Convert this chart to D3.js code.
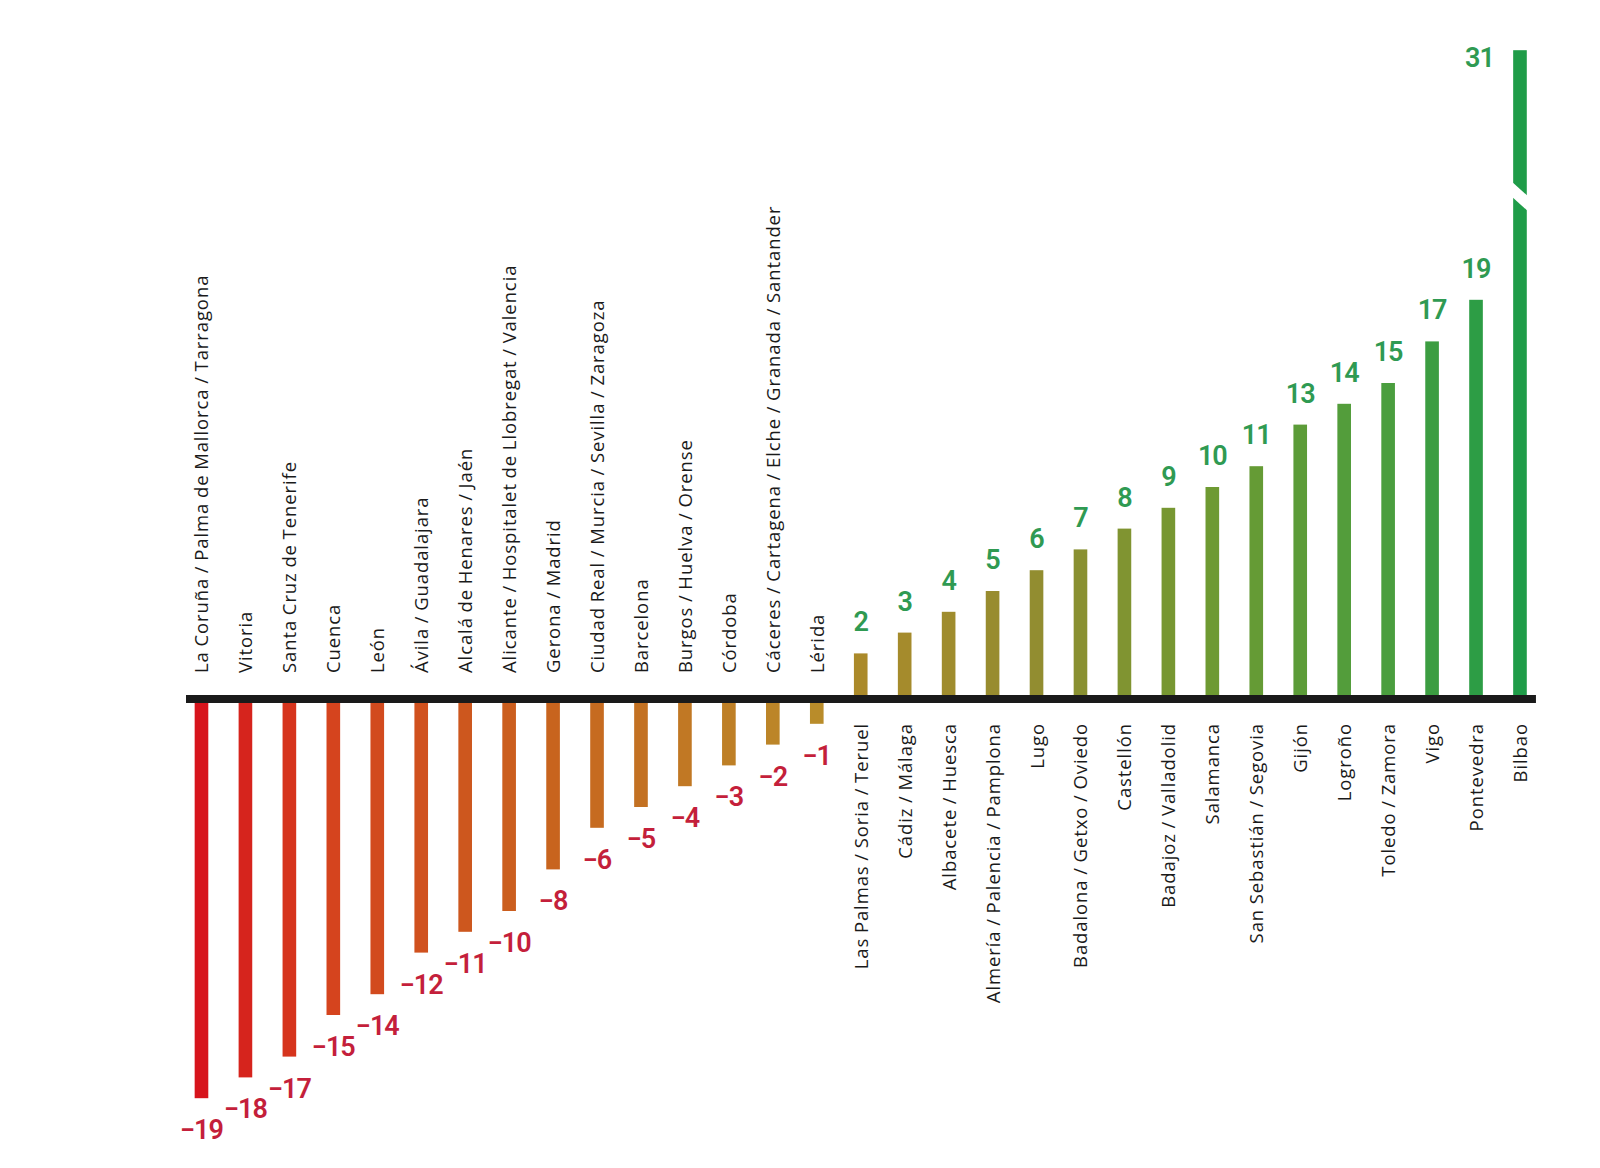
<!DOCTYPE html>
<html>
<head>
<meta charset="utf-8">
<script src="https://cdn.jsdelivr.net/npm/d3@7"></script>
<style>
  html, body { margin: 0; padding: 0; background: #ffffff; }
  svg { display: block; }
</style>
</head>
<body>
<svg id="chart" width="1600" height="1168"></svg>
<script>
// ---- DATA ----
const categories = [
  "La Coruña / Palma de Mallorca / Tarragona",
  "Vitoria",
  "Santa Cruz de Tenerife",
  "Cuenca",
  "León",
  "Ávila / Guadalajara",
  "Alcalá de Henares / Jaén",
  "Alicante / Hospitalet de Llobregat / Valencia",
  "Gerona / Madrid",
  "Ciudad Real / Murcia / Sevilla / Zaragoza",
  "Barcelona",
  "Burgos / Huelva / Orense",
  "Córdoba",
  "Cáceres / Cartagena / Elche / Granada / Santander",
  "Lérida",
  "Las Palmas / Soria / Teruel",
  "Cádiz / Málaga",
  "Albacete / Huesca",
  "Almería / Palencia / Pamplona",
  "Lugo",
  "Badalona / Getxo / Oviedo",
  "Castellón",
  "Badajoz / Valladolid",
  "Salamanca",
  "San Sebastián / Segovia",
  "Gijón",
  "Logroño",
  "Toledo / Zamora",
  "Vigo",
  "Pontevedra",
  "Bilbao"
];
const values = [-19, -18, -17, -15, -14, -12, -11, -10, -8, -6, -5, -4, -3, -2, -1,
                2, 3, 4, 5, 6, 7, 8, 9, 10, 11, 13, 14, 15, 17, 19, 31];
const brokenCategories = ["Bilbao"]; // bar drawn with a scale break

// ---- LAYOUT ----
const svg = d3.select("#chart");
svg.append("rect").attr("width", 1600).attr("height", 1168).attr("fill", "#ffffff");

const n = categories.length;
const step = 43.95;
const x = d3.scaleBand()
  .domain(categories)
  .range([179.5, 179.5 + n * step])
  .paddingInner(0.69)
  .paddingOuter(0.345)
  .align(0.5);

const axisTop = 695, axisBottom = 703, unit = 20.8;
const yPos = d3.scaleLinear().domain([0, 31]).range([axisTop, axisTop - 31 * unit]);
const yNeg = d3.scaleLinear().domain([0, -19]).range([axisBottom, axisBottom + 19 * unit]);

const color = d3.scaleLinear()
  .domain([0, 3, 8, 14, 15, 19, 23, 27, 30])
  .range(["#d7141c", "#d5441e", "#c8641e", "#b98c2a", "#ab8a2a", "#928d30", "#6e9a32", "#4a9e3e", "#1f9c48"])
  .interpolate(d3.interpolateRgb);

const data = categories.map((c, i) => ({ cat: c, v: values[i], i }));

// bars
svg.append("g").selectAll("rect")
  .data(data)
  .join("rect")
  .attr("x", d => x(d.cat))
  .attr("width", x.bandwidth())
  .attr("y", d => d.v >= 0 ? yPos(d.v) : axisBottom)
  .attr("height", d => d.v >= 0 ? axisTop - yPos(d.v) : yNeg(d.v) - axisBottom)
  .attr("fill", d => color(d.i));

// scale break on broken bars
data.filter(d => brokenCategories.includes(d.cat)).forEach(d => {
  const x0 = x(d.cat) - 1, x1 = x(d.cat) + x.bandwidth() + 1;
  svg.append("polygon")
    .attr("points", `${x0},182 ${x1},196 ${x1},211 ${x0},197`)
    .attr("fill", "#ffffff");
});

// axis band
svg.append("rect")
  .attr("x", x.range()[0] + 6.5)
  .attr("width", (x.range()[1] - 6) - (x.range()[0] + 6.5))
  .attr("y", axisTop)
  .attr("height", axisBottom - axisTop)
  .attr("fill", "#1a1a1a");

// category labels
const cx = d => x(d.cat) + x.bandwidth() / 2;
svg.append("g").selectAll("text")
  .data(data)
  .join("text")
  .attr("transform", d => d.v < 0
    ? `translate(${cx(d) + 7},${axisTop - 22}) rotate(-90)`
    : `translate(${cx(d) + 7},${axisBottom + 20}) rotate(-90)`)
  .attr("text-anchor", d => d.v < 0 ? "start" : "end")
  .attr("font-family", "'Open Sans', sans-serif")
  .attr("font-size", 18.5)
  .attr("letter-spacing", "0.9px")
  .attr("word-spacing", "-1px")
  .attr("fill", "#1a1a1a")
  .text(d => d.cat);

// value labels
const fmt = v => v < 0 ? "\u2212" + Math.abs(v) : String(v);
svg.append("g").selectAll("text")
  .data(data)
  .join("text")
  .attr("x", d => brokenCategories.includes(d.cat) ? cx(d) - 26 : cx(d))
  .attr("y", d => {
    if (brokenCategories.includes(d.cat)) return yPos(d.v) + 17;
    return d.v < 0 ? yNeg(d.v) + 41 : yPos(d.v) - 22;
  })
  .attr("text-anchor", d => brokenCategories.includes(d.cat) ? "end" : "middle")
  .attr("font-family", "Roboto, 'Open Sans', sans-serif")
  .attr("font-weight", 600)
  .attr("font-size", 27)
  .attr("letter-spacing", "-1px")
  .attr("fill", d => d.v < 0 ? "#c41f3b" : "#2f9a52")
  .text(d => fmt(d.v));
</script>
</body>
</html>
